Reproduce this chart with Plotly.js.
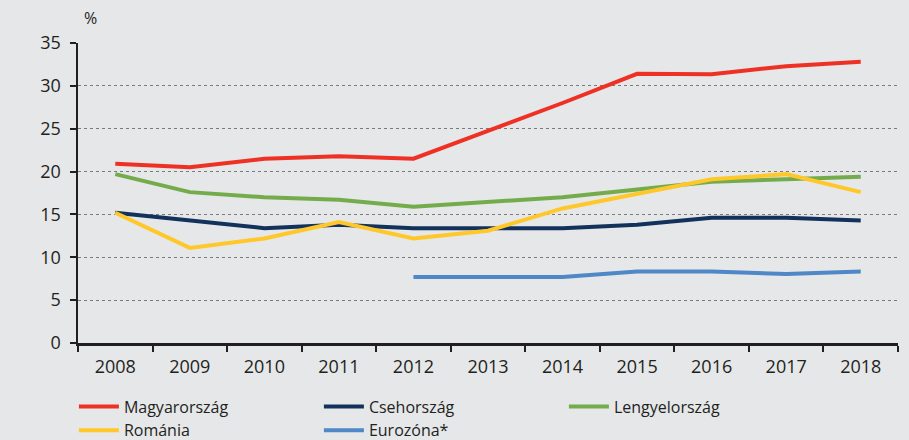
<!DOCTYPE html>
<html><head><meta charset="utf-8">
<script src="https://cdn.plot.ly/plotly-3.0.1.min.js"></script>
<style>html,body{margin:0;padding:0;background:#e6e7e9;}</style>
</head><body>
<div id="chart" style="width:909px;height:440px;"></div>
<script>
const years = ['2008','2009','2010','2011','2012','2013','2014','2015','2016','2017','2018'];
const magyar = [20.9, 20.5, 21.5, 21.8, 21.5, 24.7, 28.0, 31.4, 31.35, 32.3, 32.8];
const cseh = [15.2, 14.3, 13.4, 13.8, 13.4, 13.4, 13.4, 13.8, 14.6, 14.6, 14.3];
const lengyel = [19.7, 17.6, 17.0, 16.7, 15.9, 16.4, 17.0, 17.9, 18.8, 19.1, 19.4];
const romania = [15.2, 11.1, 12.2, 14.1, 12.2, 13.1, 15.7, 17.4, 19.1, 19.7, 17.6];
const euro = [null, null, null, null, 7.7, 7.7, 7.7, 8.35, 8.35, 8.05, 8.35];
const names = ['Magyarország','Csehország','Lengyelország','Románia','Eurozóna*'];
const colors = ['#ee3124','#13325b','#74ac4c','#ffc82a','#4f87c7'];
const series = [magyar, cseh, lengyel, romania, euro];
const traces = series.map((s,i)=>({
  x: years, y: s, name: names[i], type:'scatter', mode:'lines',
  line:{color:colors[i], width:4}, connectgaps:false
}));
const font = {family:'Open Sans, sans-serif', size:18, color:'#231f20'};
Plotly.newPlot('chart', traces, {
  width:909, height:440,
  paper_bgcolor:'#e6e7e9', plot_bgcolor:'#e6e7e9',
  margin:{l:78, r:11, t:43, b:97, autoexpand:false},
  font: font,
  showlegend:true,
  legend:{orientation:'h', x:-0.005, xanchor:'left', y:-0.155, yanchor:'top',
    entrywidth:190, entrywidthmode:'pixels', font:{family:'Open Sans, sans-serif', size:16, color:'#231f20'},
    bgcolor:'rgba(0,0,0,0)', tracegroupgap:0, itemwidth:40},
  xaxis:{type:'category', range:[-0.5,10.5], tickson:'boundaries', ticks:'outside', ticklen:6,
    tickwidth:2, tickcolor:'#231f20', showline:true, linecolor:'#231f20', linewidth:2.5,
    showgrid:false, zeroline:false, tickfont:font, fixedrange:true, ticklabelstandoff:6},
  yaxis:{range:[0,35], dtick:5, ticks:'outside', ticklen:6, tickwidth:2, tickcolor:'#231f20',
    showline:true, linecolor:'#231f20', linewidth:2.5, showgrid:true, gridcolor:'#7a7a7a',
    griddash:'dot', gridwidth:1, zeroline:false, tickfont:font, ticklabelstandoff:5},
  annotations:[{text:'%', xref:'paper', yref:'paper', x:0.0, y:1, xshift:4, yshift:12,
    xanchor:'left', yanchor:'bottom', showarrow:false, font:{family:'Open Sans, sans-serif', size:16, color:'#231f20'}}]
}, {staticPlot:true});
</script>
</body></html>
